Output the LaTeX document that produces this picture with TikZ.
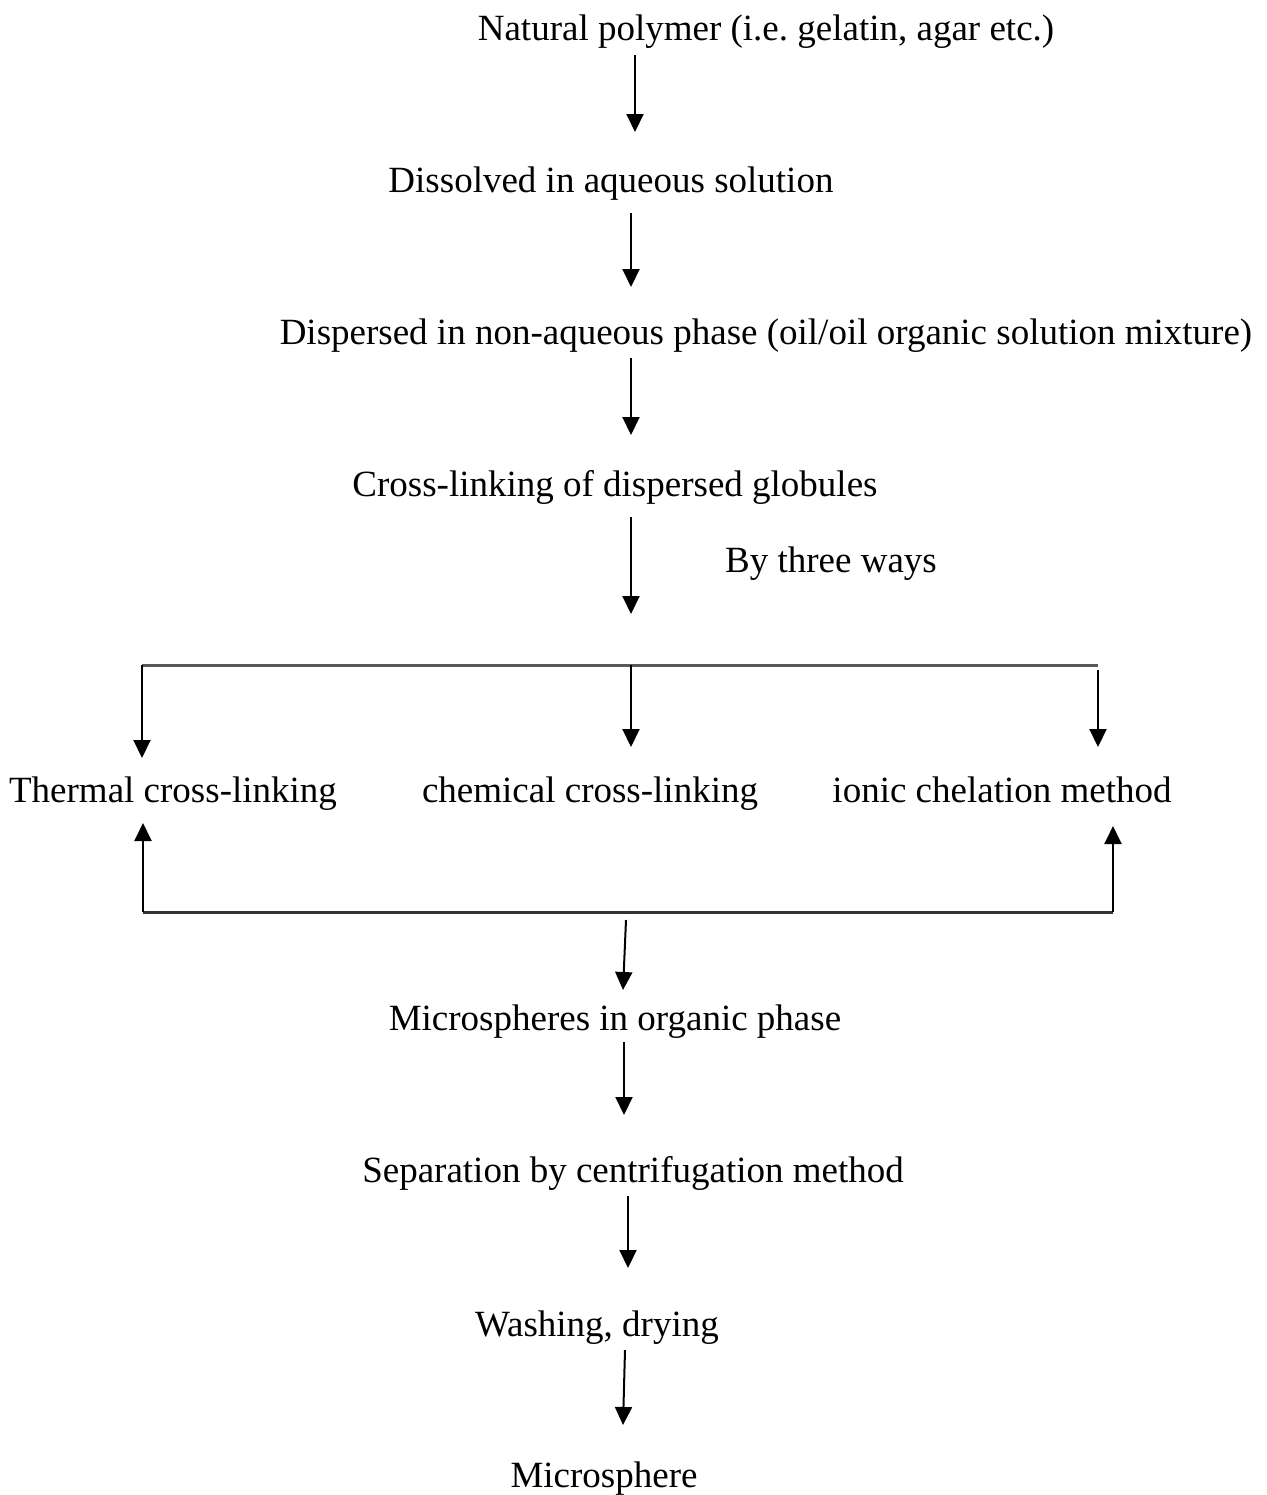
\documentclass[tikz,border=0pt]{standalone}
\usepackage{fontspec}
\setmainfont{Liberation Serif}
\usetikzlibrary{arrows.meta}
\frenchspacing
\begin{document}
\begin{tikzpicture}[x=0.5pt,y=-0.5pt,
  lbl/.style={inner sep=0pt,font=\fontsize{18.5}{20}\selectfont,anchor=base},
  arr/.style={line width=1pt,-{Triangle[length=9pt,width=8.5pt]}},
  brk/.style={line width=1.5pt,gray!70!black}]
\useasboundingbox (0,0) rectangle (1266,1495);
\node[lbl] (n1) at (766,40) {Natural polymer (i.e.\ gelatin, agar etc.)};
\node[lbl] (n2) at (611,192) {Dissolved in aqueous solution};
\node[lbl] (n3) at (766,344) {Dispersed in non-aqueous phase (oil/oil organic solution mixture)};
\node[lbl] (n4) at (615,496) {Cross-linking of dispersed globules};
\node[lbl] (w) at (831,572) {By three ways};
\node[lbl] (t1) at (173,802) {Thermal cross-linking};
\node[lbl] (t2) at (590,802) {chemical cross-linking};
\node[lbl] (t3) at (1002,802) {ionic chelation method};
\node[lbl] (n5) at (615,1030) {Microspheres in organic phase};
\node[lbl] (n6) at (633,1182) {Separation by centrifugation method};
\node[lbl] (n7) at (597,1336) {Washing, drying};
\node[lbl] (n8) at (604,1487) {Microsphere};
% arrow end points
\coordinate (a1s) at (635,55);  \coordinate (a1e) at (635,132);
\coordinate (a2s) at (631,213); \coordinate (a2e) at (631,287);
\coordinate (a3s) at (631,358); \coordinate (a3e) at (631,435);
\coordinate (a4s) at (631,517); \coordinate (a4e) at (631,614);
\coordinate (bl) at (142,665);  \coordinate (br) at (1098,665);
\coordinate (d1) at (142,758);  \coordinate (d2) at (631,747); \coordinate (d3) at (1098,747);
\coordinate (c2) at (631,665);  \coordinate (c3) at (1098,670);
\coordinate (ul) at (143,912);  \coordinate (ur) at (1113,912);
\coordinate (u1) at (143,823);  \coordinate (u3) at (1113,826);
\coordinate (a5s) at (626,920); \coordinate (a5e) at (623,990);
\coordinate (a6s) at (624,1042); \coordinate (a6e) at (624,1115);
\coordinate (a7s) at (628,1196); \coordinate (a7e) at (628,1268);
\coordinate (a8s) at (625,1350); \coordinate (a8e) at (623,1425);
\draw[arr] (a1s) -- (a1e);
\draw[arr] (a2s) -- (a2e);
\draw[arr] (a3s) -- (a3e);
\draw[arr] (a4s) -- (a4e);
\draw[brk] (bl) -- (br);
\draw[arr] (bl) -- (d1);
\draw[arr] (c2) -- (d2);
\draw[arr] (c3) -- (d3);
\draw[brk,black!80] (ul) -- (ur);
\draw[arr] (ul) -- (u1);
\draw[arr] (ur) -- (u3);
\draw[arr] (a5s) -- (a5e);
\draw[arr] (a6s) -- (a6e);
\draw[arr] (a7s) -- (a7e);
\draw[arr] (a8s) -- (a8e);
\end{tikzpicture}
\end{document}
